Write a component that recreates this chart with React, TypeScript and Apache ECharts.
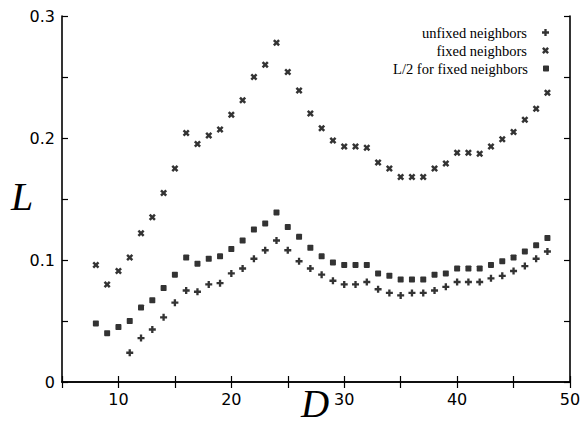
import React, { useEffect, useRef } from "react";
import * as echarts from "echarts";

const dFixed = [8, 9, 10, 11, 12, 13, 14, 15, 16, 17, 18, 19, 20, 21, 22, 23, 24, 25, 26, 27, 28, 29, 30, 31, 32, 33, 34, 35, 36, 37, 38, 39, 40, 41, 42, 43, 44, 45, 46, 47, 48];
const fixedL = [0.096, 0.080, 0.091, 0.102, 0.122, 0.135, 0.155, 0.175, 0.204, 0.195, 0.202, 0.207, 0.219, 0.231, 0.250, 0.260, 0.278, 0.254, 0.239, 0.220, 0.208, 0.198, 0.193, 0.193, 0.192, 0.180, 0.175, 0.168, 0.168, 0.168, 0.175, 0.179, 0.188, 0.188, 0.187, 0.193, 0.199, 0.205, 0.215, 0.224, 0.237];
const halfL = [0.048, 0.040, 0.045, 0.050, 0.061, 0.067, 0.077, 0.088, 0.102, 0.097, 0.101, 0.103, 0.109, 0.116, 0.125, 0.130, 0.139, 0.127, 0.119, 0.110, 0.103, 0.098, 0.096, 0.096, 0.096, 0.089, 0.087, 0.084, 0.084, 0.084, 0.088, 0.089, 0.093, 0.093, 0.093, 0.096, 0.099, 0.102, 0.107, 0.112, 0.118];
const dUnfixed = [11, 12, 13, 14, 15, 16, 17, 18, 19, 20, 21, 22, 23, 24, 25, 26, 27, 28, 29, 30, 31, 32, 33, 34, 35, 36, 37, 38, 39, 40, 41, 42, 43, 44, 45, 46, 47, 48];
const unfixedL = [0.024, 0.036, 0.043, 0.053, 0.065, 0.075, 0.074, 0.080, 0.081, 0.089, 0.093, 0.101, 0.108, 0.116, 0.108, 0.099, 0.093, 0.088, 0.083, 0.080, 0.080, 0.082, 0.076, 0.073, 0.071, 0.073, 0.073, 0.075, 0.078, 0.082, 0.082, 0.082, 0.085, 0.087, 0.091, 0.095, 0.101, 0.107];

const seriesNames = ["unfixed neighbors", "fixed neighbors", "L/2 for fixed neighbors"];
const xTitle = "D";
const yTitle = "L";

const PLUS = "path://M3,0h3v3h3v3h-3v3h-3v-3h-3v-3h3z";
const CROSS = "path://M0,2.5L2.5,0L5,2.5L7.5,0L10,2.5L7.5,5L10,7.5L7.5,10L5,7.5L2.5,10L0,7.5L2.5,5Z";
const STAR = "path://M0,1L1,0L9,0L10,1L10,9L9,10L1,10L0,9Z";

export default function App() {
  const ref = useRef<HTMLDivElement>(null);
  useEffect(() => {
    document.body.style.margin = "0";
    const chart = echarts.init(ref.current!, null, { renderer: "svg" });
    const tickStyle = { show: true, inside: true, length: 6, lineStyle: { color: "#000", width: 1.2 } };
    const lineStyle = { show: true, lineStyle: { color: "#000", width: 1.6 } };
    const labelFont = { color: "#000", fontFamily: "DejaVu Sans", fontSize: 16 };
    const legendBase = {
      orient: "horizontal" as const,
      align: "right" as const,
      right: 38,
      padding: 0,
      itemWidth: 7,
      itemHeight: 7,
      textStyle: { fontFamily: "Liberation Serif", fontSize: 14.5, color: "#000", padding: [0, 10, 0, 0] },
    };
    chart.setOption({
      animation: false,
      backgroundColor: "#fff",
      grid: { left: 62, right: 17, top: 16, bottom: 44, containLabel: false, outerBoundsMode: "none" },
      legend: [
        { ...legendBase, top: 25, data: [seriesNames[0]] },
        { ...legendBase, top: 43, data: [seriesNames[1]] },
        { ...legendBase, top: 61, data: [{ name: seriesNames[2], itemStyle: { color: "#000" } }], itemWidth: 6, itemHeight: 6 },
      ],
      graphic: [
        {
          type: "text", x: 22, y: 196,
          style: { text: yTitle, font: "italic 40px 'Liberation Serif'", fill: "#000", textAlign: "center", textVerticalAlign: "middle" },
        },
        {
          type: "text", x: 315, y: 403,
          style: { text: xTitle, font: "italic 39px 'Liberation Serif'", fill: "#000", textAlign: "center", textVerticalAlign: "middle" },
        },
      ],
      xAxis: [
        {
          type: "value", min: 5, max: 50, interval: 5, position: "bottom",
          axisLine: lineStyle, axisTick: tickStyle, splitLine: { show: false },
          axisLabel: { ...labelFont, margin: 9, formatter: (v: number) => (v % 10 === 0 ? String(v) : "") },
        },
        {
          type: "value", min: 5, max: 50, interval: 5, position: "top",
          axisLine: lineStyle, axisTick: tickStyle, splitLine: { show: false }, axisLabel: { show: false },
        },
      ],
      yAxis: [
        {
          type: "value", min: 0, max: 0.3, interval: 0.05, position: "left",
          axisLine: lineStyle, axisTick: tickStyle, splitLine: { show: false },
          axisLabel: {
            ...labelFont, margin: 7,
            formatter: (v: number) => {
              const r = Math.round(v * 100);
              return r % 10 === 0 ? (r === 0 ? "0" : (r / 100).toFixed(1)) : "";
            },
          },
        },
        {
          type: "value", min: 0, max: 0.3, interval: 0.05, position: "right",
          axisLine: lineStyle, axisTick: tickStyle, splitLine: { show: false }, axisLabel: { show: false },
        },
      ],
      series: [
        {
          name: seriesNames[0], type: "scatter", symbol: PLUS, symbolSize: 7,
          itemStyle: { color: "#000" },
          data: dUnfixed.map((d, i) => [d, unfixedL[i]]),
        },
        {
          name: seriesNames[1], type: "scatter", symbol: CROSS, symbolSize: 7,
          itemStyle: { color: "#000" },
          data: dFixed.map((d, i) => [d, fixedL[i]]),
        },
        {
          name: seriesNames[2], type: "scatter", symbol: STAR, symbolSize: 6,
          itemStyle: { color: "#000" },
          data: dFixed.map((d, i) => [d, halfL[i]]),
        },
      ],
    });
    return () => chart.dispose();
  }, []);
  return <div ref={ref} style={{ width: 587, height: 426 }} />;
}
